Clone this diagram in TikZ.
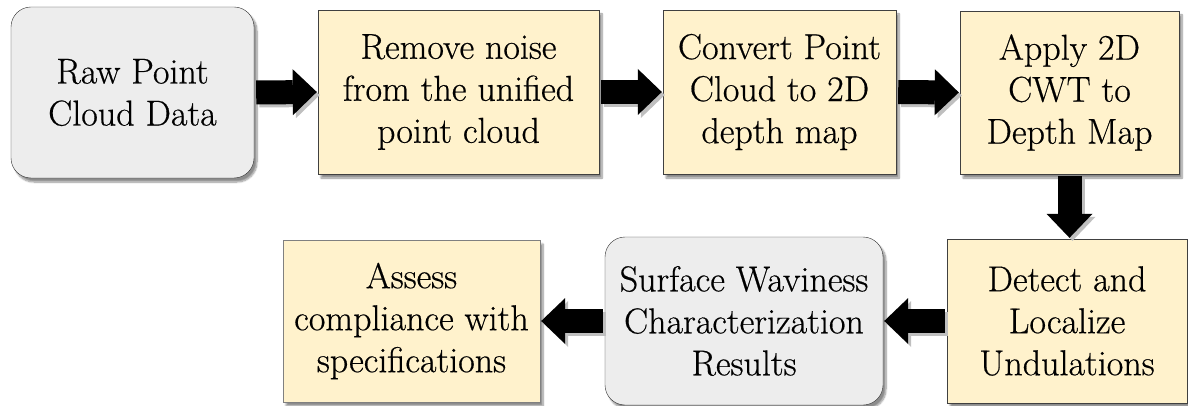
\documentclass[tikz,border=0pt]{standalone}
\usepackage{fontspec}
\setmainfont{Latin Modern Roman}[FakeBold=0.5]
\usetikzlibrary{arrows.meta,shadows.blur}

\definecolor{stepfill}{HTML}{FFF2CC}
\definecolor{endfill}{HTML}{EDEDED}

\begin{document}
\begin{tikzpicture}[x=1pt, y=-1pt,
    proc/.style={draw=black!75, fill=stepfill, align=center, inner sep=0pt,
        font=\rmfamily\fontsize{36}{42}\selectfont,
        blur shadow={shadow xshift=3pt, shadow yshift=-4pt, shadow blur steps=8, shadow opacity=45}},
    term/.style={proc, fill=endfill, draw=black!80, rounded corners=20pt},
    flow/.style={line width=24pt, shorten <=2pt, shorten >=1pt,
        -{Triangle[length=24pt, width=46pt, line width=0pt]}},
    flowshade/.style={flow, draw=black!25, transform canvas={shift={(3pt,-3pt)}}}]
    \useasboundingbox (0,0) rectangle (1188,406);

    % first row
    \node[term, minimum width=243pt, minimum height=171pt] (raw) at (132.5,92.5) {Raw Point\\Cloud Data};
    \node[proc, minimum width=281pt, minimum height=164pt] (noise) at (458.5,92) {Remove noise\\from the unified\\point cloud};
    \node[proc, minimum width=233pt, minimum height=164pt] (depth) at (779.5,92) {Convert Point\\Cloud to 2D\\depth map};
    \node[proc, minimum width=219pt, minimum height=163pt] (cwt) at (1069.5,92.5) {Apply 2D\\CWT to\\Depth Map};

    % second row
    \node[proc, minimum width=240pt, minimum height=164pt] (detect) at (1067,321) {Detect and\\Localize\\Undulations};
    \node[term, minimum width=278pt, minimum height=168pt] (result) at (744,321) {Surface Waviness\\Characterization\\Results};
    \node[proc, draw=black!50, minimum width=257pt, minimum height=162pt] (assess) at (411.5,321) {Assess\\compliance with\\specifications};

    % block arrows
    \draw[flowshade] (raw.east) -- (noise.west);
    \draw[flow] (raw.east) -- (noise.west);
    \draw[flowshade] (noise.east) -- (depth.west);
    \draw[flow] (noise.east) -- (depth.west);
    \draw[flowshade] (depth.east) -- (cwt.west);
    \draw[flow] (depth.east) -- (cwt.west);
    \draw[flowshade] (cwt.south) -- (cwt.south |- detect.north);
    \draw[flow] (cwt.south) -- (cwt.south |- detect.north);
    \draw[flowshade] (detect.west) -- (result.east);
    \draw[flow] (detect.west) -- (result.east);
    \draw[flowshade] (result.west) -- (assess.east);
    \draw[flow] (result.west) -- (assess.east);

\end{tikzpicture}
\end{document}
